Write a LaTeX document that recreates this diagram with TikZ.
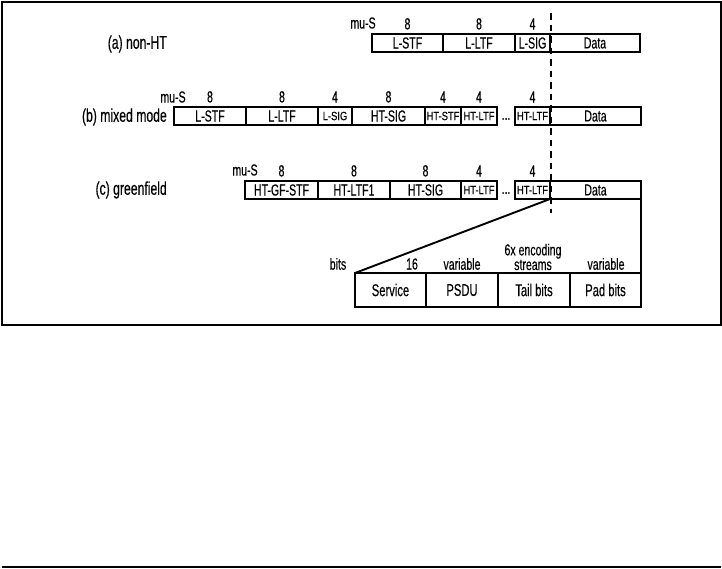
\documentclass[tikz,border=0pt]{standalone}
\usepackage{fontspec}
\setmainfont{Liberation Sans}[FakeStretch=0.66,FakeBold=0.3]
\newfontfamily\smallboxfont{Liberation Sans}[FakeStretch=0.78,FakeBold=0.3]
\usetikzlibrary{positioning}
\begin{document}
\begin{tikzpicture}[x=1pt,y=-1pt,
  box/.style={draw, line width=1.8pt, inner sep=0pt, outer sep=0pt, minimum height=18pt, anchor=north west, font=\fontsize{16}{16}\selectfont},
  sbox/.style={box, font=\smallboxfont\fontsize{12}{12}\selectfont},
  bitbox/.style={box, minimum height=34pt, font=\fontsize{17}{17}\selectfont},
  num/.style={inner sep=0pt, outer sep=0pt, font=\fontsize{16}{16}\selectfont},
  rowlabel/.style={anchor=east, inner sep=0pt, font=\fontsize{18.5}{18.5}\selectfont},
  dashline/.style={line width=2pt, dash pattern=on 6.5pt off 5pt},
  conn/.style={line width=1.9pt}]
\useasboundingbox (0,0) rectangle (722,568);
\draw[line width=1.3pt] (2,2) rectangle (721,325);
\draw[line width=1.5pt] (2,567) -- (721,567);

% row a
\node[rowlabel] (la) at (167,44) {(a) non-HT};
\node[box, minimum width=71pt] (a1) at (372,34) {L-STF};
\node[box, minimum width=72pt] (a2) at (443,34) {L-LTF};
\node[box, minimum width=35pt] (a3) at (515,34) {L-SIG};
\node[box, minimum width=90pt] (a4) at (550,34) {Data};
\node[num] (mua) at (363,23) {mu-S};
\node[num, above=4.5pt of a1] (na1) {8};
\node[num, above=4.5pt of a2] (na2) {8};
\node[num, above=4.5pt of a3] (na3) {4};

% row b
\node[rowlabel] (lb) at (167,117) {(b) mixed mode};
\node[box, minimum width=72pt] (b1) at (174,107) {L-STF};
\node[box, minimum width=72pt] (b2) at (246,107) {L-LTF};
\node[sbox, minimum width=34pt] (b3) at (318,107) {L-SIG};
\node[box, minimum width=73pt] (b4) at (352,107) {HT-SIG};
\node[sbox, minimum width=36pt] (b5) at (425,107) {HT-STF};
\node[sbox, minimum width=36pt] (b6) at (461,107) {HT-LTF};
\node[num] (bd) at (506,119) {...};
\node[sbox, minimum width=35pt] (b7) at (515,107) {HT-LTF};
\node[box, minimum width=91pt] (b8) at (550,107) {Data};
\node[num] (mub) at (173,97) {mu-S};
\node[num, above=4.5pt of b1] (nb1) {8};
\node[num, above=4.5pt of b2] (nb2) {8};
\node[num, above=4.5pt of b3] (nb3) {4};
\node[num, above=4.5pt of b4] (nb4) {8};
\node[num, above=4.5pt of b5] (nb5) {4};
\node[num, above=4.5pt of b6] (nb6) {4};
\node[num, above=4.5pt of b7] (nb7) {4};

% row c
\node[rowlabel] (lc) at (167,190) {(c) greenfield};
\node[box, minimum width=73pt] (c1) at (245,181) {HT-GF-STF};
\node[box, minimum width=72pt] (c2) at (318,181) {HT-LTF1};
\node[box, minimum width=71pt] (c3) at (390,181) {HT-SIG};
\node[sbox, minimum width=36pt] (c4) at (461,181) {HT-LTF};
\node[num] (cd) at (506,193) {...};
\node[sbox, minimum width=35pt] (c5) at (515,181) {HT-LTF};
\node[box, minimum width=91pt] (c6) at (550,181) {Data};
\node[num] (muc) at (245,170) {mu-S};
\node[num, above=4.5pt of c1] (nc1) {8};
\node[num, above=4.5pt of c2] (nc2) {8};
\node[num, above=4.5pt of c3] (nc3) {8};
\node[num, above=4.5pt of c4] (nc4) {4};
\node[num, above=4.5pt of c5] (nc5) {4};

% dashed boundary
\coordinate (dtop) at (550.5,13);
\coordinate (dbot) at (550.5,213);
\draw[dashline] (dtop) -- (dbot);

% data field breakdown
\node[bitbox, minimum width=71pt] (s1) at (355,273) {Service};
\node[bitbox, minimum width=72pt] (s2) at (426,273) {PSDU};
\node[bitbox, minimum width=72pt] (s3) at (498,273) {Tail bits};
\node[bitbox, minimum width=71pt] (s4) at (570,273) {Pad bits};
\node[num] (bits) at (338,264) {bits};
\node[num] (l16) at (412,264) {16};
\node[num] (lvar1) at (462,264) {variable};
\node[num, align=center, font=\fontsize{16}{12.5}\selectfont] (lenc) at (533,257) {6x encoding\\streams};
\node[num] (lvar2) at (606,264) {variable};

\draw[conn] (c6.south west) -- (s1.north west);
\draw[conn] (c6.south east) -- (s4.north east);
\end{tikzpicture}
\end{document}
